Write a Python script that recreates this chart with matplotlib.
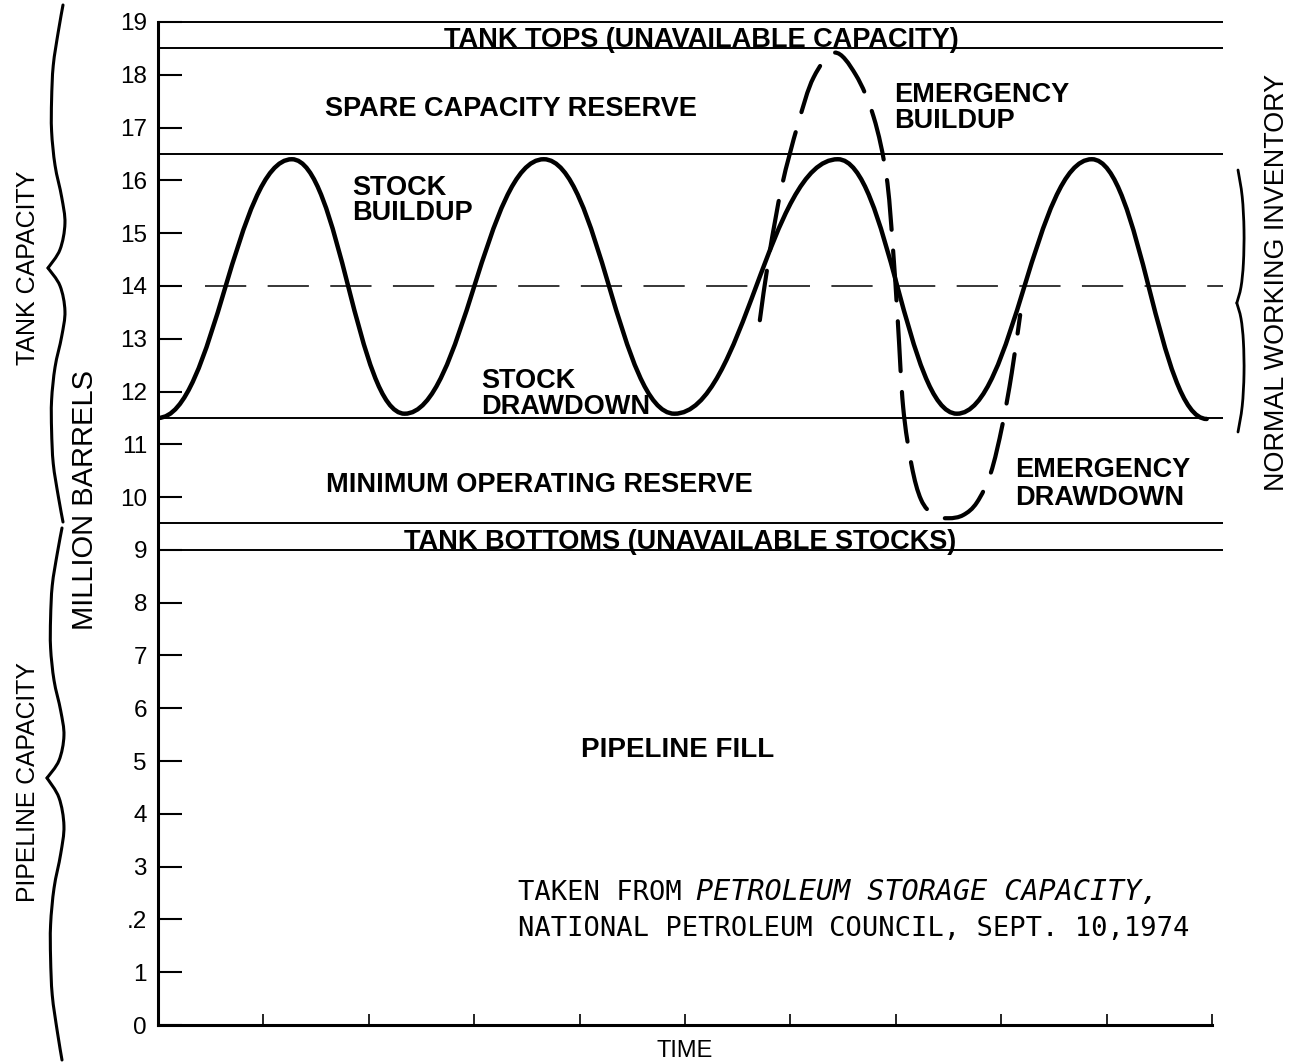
import numpy as np
import matplotlib.pyplot as plt
from matplotlib.path import Path
from matplotlib.patches import PathPatch

W, H = 1293, 1064

# storage levels, million barrels
level_lines = [19.0, 18.5, 16.5, 11.5, 9.5, 9.0]
mid_line = 14.0

# normal working inventory cycle: turning points (time, stock)
cycle_x = [0.00, 1.27, 2.34, 3.66, 4.90, 6.45, 7.58, 8.86, 9.95]
cycle_y = [11.50, 16.40, 11.58, 16.40, 11.58, 16.40, 11.58, 16.40, 11.48]

# emergency buildup / drawdown excursion
emerg_x = [5.71, 5.80, 5.92, 6.07, 6.22, 6.42, 6.62, 6.79, 6.91, 6.97, 7.02, 7.07,
           7.15, 7.24, 7.36, 7.50, 7.64, 7.77, 7.90, 8.01, 8.10, 8.18]
emerg_y = [13.35, 14.60, 15.90, 17.05, 17.95, 18.42, 18.00, 17.20, 16.10, 14.80, 13.30, 11.70,
           10.60, 9.95, 9.66, 9.60, 9.66, 9.90, 10.45, 11.35, 12.35, 13.45]

ytick_vals = list(range(20))
ytick_labels = [str(v) for v in ytick_vals]
ytick_labels[2] = '.2'
xtick_vals = list(range(1, 11))

# (text, x, baseline y, horizontal alignment)
zone_labels = [
    ("TANK TOPS (UNAVAILABLE CAPACITY)", 5.16, 18.53, "center"),
    ("SPARE CAPACITY RESERVE", 3.35, 17.22, "center"),
    ("EMERGENCY", 6.98, 17.48, "left"),
    ("BUILDUP", 6.98, 16.99, "left"),
    ("STOCK", 1.84, 15.72, "left"),
    ("BUILDUP", 1.84, 15.25, "left"),
    ("STOCK", 3.07, 12.07, "left"),
    ("DRAWDOWN", 3.07, 11.57, "left"),
    ("MINIMUM OPERATING RESERVE", 3.62, 10.10, "center"),
    ("EMERGENCY", 8.13, 10.38, "left"),
    ("DRAWDOWN", 8.13, 9.85, "left"),
    ("TANK BOTTOMS (UNAVAILABLE STOCKS)", 4.95, 9.02, "center"),
]
fill_label = ("PIPELINE FILL", 4.93, 5.08)


def smooth_path(xs, ys):
    # Catmull-Rom through the given points, as cubic Bezier segments
    p = np.column_stack([xs, ys]).astype(float)
    ext = np.vstack([p[0], p, p[-1]])
    verts = [p[0]]
    codes = [Path.MOVETO]
    for i in range(len(p) - 1):
        p0, p1, p2, p3 = ext[i], ext[i + 1], ext[i + 2], ext[i + 3]
        verts += [p1 + (p2 - p0) / 6, p2 - (p3 - p1) / 6, p2]
        codes += [Path.CURVE4] * 3
    return Path(verts, codes)


def wave_path(xs, ys, k=0.42):
    # one cubic per swing, flat at every peak and trough
    verts = [(xs[0], ys[0])]
    codes = [Path.MOVETO]
    for xa, ya, xb, yb in zip(xs[:-1], ys[:-1], xs[1:], ys[1:]):
        dx = xb - xa
        verts += [(xa + k * dx, ya), (xb - k * dx, yb), (xb, yb)]
        codes += [Path.CURVE4] * 3
    return Path(verts, codes)


plt.rcParams['font.family'] = ['Liberation Sans', 'DejaVu Sans']

fig = plt.figure(figsize=(W / 100, H / 100), dpi=100)
x0, y0 = 158, 1025
px_x, px_y = 105.4, 52.79
ax = fig.add_axes([x0 / W, (H - y0) / H, 10.15 * px_x / W, 19.3 * px_y / H])
ax.set_xlim(0, 10.15)
ax.set_ylim(0, 19.3)

for s in ['top', 'right']:
    ax.spines[s].set_visible(False)
ax.spines['left'].set_bounds(0, 19)
ax.spines['bottom'].set_bounds(0, 10)
ax.spines['left'].set_linewidth(2.2)
ax.spines['bottom'].set_linewidth(2.2)

ax.set_yticks(ytick_vals)
ax.set_yticklabels(ytick_labels)
ax.set_xticks(xtick_vals)
ax.tick_params(axis='y', direction='in', length=17, width=1.5, pad=8, labelsize=17.5)
ax.tick_params(axis='x', direction='in', length=8, width=1.2, labelbottom=False)

ax.hlines(level_lines, 0, 10.1, colors='black', lw=1.4, clip_on=False)
ax.plot([0.45, 10.1], [mid_line, mid_line], color='black', lw=1.1, ls=(0, (27, 14)))

ax.add_patch(PathPatch(wave_path(cycle_x, cycle_y), fill=False, ec='black',
                       lw=3.2, capstyle='round', joinstyle='round'))
ax.add_patch(PathPatch(smooth_path(emerg_x, emerg_y), fill=False, ec='black',
                       lw=3.0, ls=(0, (12, 5)), capstyle='round'))

for txt, x, y, ha in zone_labels:
    ax.text(x, y, txt, ha=ha, va='baseline', fontsize=19.5, fontweight='bold')
ax.text(fill_label[1], fill_label[2], fill_label[0], ha='center', va='baseline',
        fontsize=20, fontweight='bold')

# source note, typewriter style
note_kw = dict(family='DejaVu Sans Mono', fontsize=19.5, transform=fig.transFigure)
t1 = ax.text(518 / W, (H - 900) / H, "TAKEN FROM", va='baseline', ha='left', **note_kw)
ax.annotate("PETROLEUM STORAGE CAPACITY,", xy=(1, 0), xycoords=t1,
            xytext=(14, 0), textcoords='offset pixels', va='bottom', ha='left',
            family='DejaVu Sans Mono', fontsize=20.5, style='italic')
ax.text(518 / W, (H - 936) / H, "NATIONAL PETROLEUM COUNCIL, SEPT. 10,1974",
        va='baseline', ha='left', **note_kw)

# side captions
fig.text(85 / W, 1 - 500 / H, "MILLION BARRELS", rotation=90, ha='center', va='center', fontsize=21)
fig.text(28 / W, 1 - 268 / H, "TANK CAPACITY", rotation=90, ha='center', va='center', fontsize=18)
fig.text(28 / W, 1 - 782 / H, "PIPELINE CAPACITY", rotation=90, ha='center', va='center', fontsize=17.8)
fig.text(1277 / W, 1 - 282 / H, "NORMAL WORKING INVENTORY", rotation=90, ha='center', va='center',
         fontsize=19.4)
fig.text(685 / W, 1 - 1051 / H, "TIME", ha='center', va='center', fontsize=17)


def brace(x_end, y_top, y_tip, y_bot, depth, prof_u, prof_v, lw=2.0):
    u = np.asarray(prof_u)
    v = np.asarray(prof_v)
    for y_a in (y_top, y_bot):
        ys = y_a + (y_tip - y_a) * u
        xs = x_end - depth * v
        fig.add_artist(PathPatch(smooth_path(xs / W, 1 - ys / H), fill=False, ec='black',
                                 lw=lw, transform=fig.transFigure, capstyle='round'))


left_u = [0, 0.1, 0.23, 0.36, 0.48, 0.61, 0.73, 0.83, 0.93, 1.0]
left_v = [0, 0.31, 0.65, 0.76, 0.76, 0.53, 0.09, -0.13, 0.2, 1.0]
brace(63, 5, 268, 522, 15, left_u, left_v, lw=2.2)
brace(62, 528, 778, 1060, 15, left_u, left_v, lw=2.2)

right_u = [0, 0.2, 0.45, 0.7, 0.88, 1.0]
right_v = [0, -0.7, -1.0, -0.9, -0.5, 0.2]
brace(1238, 170, 303, 432, 6, right_u, right_v)

fig.savefig('out.png', dpi=100)
